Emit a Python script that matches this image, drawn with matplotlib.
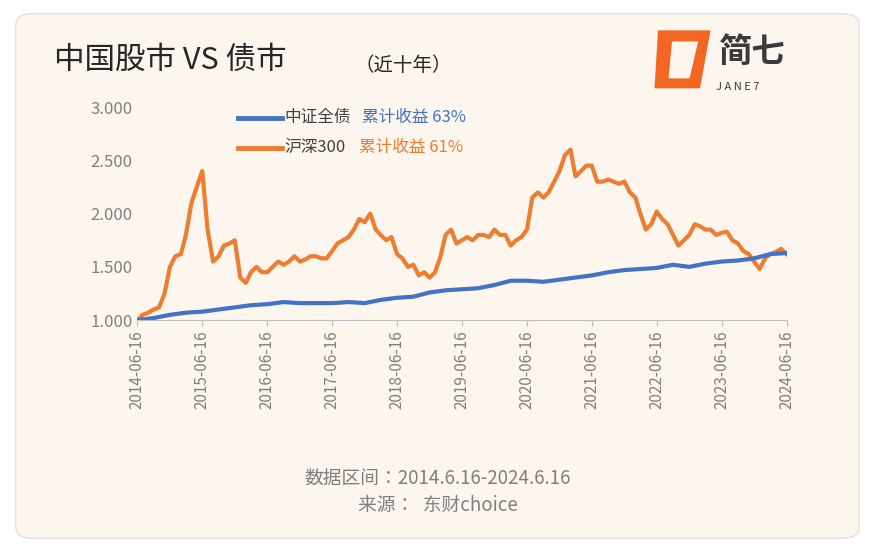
import numpy as np
import pandas as pd
import matplotlib
matplotlib.use("Agg")
import matplotlib.pyplot as plt
from matplotlib import font_manager
from matplotlib.patches import FancyBboxPatch, Polygon
from matplotlib.lines import Line2D

cjk = [f.name for f in font_manager.fontManager.ttflist if "CJK" in f.name]
plt.rcParams["font.family"] = ["Noto Sans CJK SC"] + sorted(set(cjk)) + ["DejaVu Sans"]

# 沪深300 monthly (2014-06 .. 2024-06)
hs300 = [1.00, 1.05, 1.07, 1.10, 1.12, 1.25, 1.50,
         1.60, 1.62, 1.80, 2.10, 2.25, 2.40, 1.85, 1.55, 1.60, 1.70, 1.72, 1.75,
         1.40, 1.35, 1.45, 1.50, 1.45, 1.45, 1.50, 1.55, 1.52, 1.55, 1.60, 1.55,
         1.57, 1.60, 1.60, 1.58, 1.58, 1.65, 1.72, 1.75, 1.78, 1.85, 1.95, 1.92,
         2.00, 1.85, 1.80, 1.75, 1.78, 1.62, 1.58, 1.50, 1.52, 1.42, 1.45, 1.40,
         1.45, 1.60, 1.80, 1.85, 1.72, 1.75, 1.78, 1.75, 1.80, 1.80, 1.78, 1.85,
         1.80, 1.80, 1.70, 1.75, 1.78, 1.85, 2.15, 2.20, 2.15, 2.20, 2.30, 2.40,
         2.55, 2.60, 2.35, 2.40, 2.45, 2.45, 2.30, 2.30, 2.32, 2.30, 2.28, 2.30,
         2.20, 2.15, 2.00, 1.85, 1.90, 2.02, 1.95, 1.90, 1.80, 1.70, 1.75, 1.80,
         1.90, 1.88, 1.85, 1.85, 1.80, 1.82, 1.83, 1.75, 1.72, 1.65, 1.62, 1.55,
         1.48, 1.58, 1.62, 1.64, 1.67, 1.62]
hs300_dates = pd.date_range("2014-06-01", periods=len(hs300), freq="MS") + pd.Timedelta(days=15)

# 中证全债 quarterly
bond = [1.00, 1.02, 1.05, 1.07, 1.08, 1.10, 1.12, 1.14, 1.15, 1.17, 1.16,
        1.16, 1.16, 1.17, 1.16, 1.19, 1.21, 1.22, 1.26, 1.28, 1.29, 1.30, 1.33,
        1.37, 1.37, 1.36, 1.38, 1.40, 1.42, 1.45, 1.47, 1.48, 1.49, 1.52, 1.50,
        1.53, 1.55, 1.56, 1.58, 1.62, 1.63]
bond_dates = pd.date_range("2014-06-01", periods=len(bond), freq="3MS") + pd.Timedelta(days=15)

tick_labels = [f"{y}-06-16" for y in range(2014, 2025)]
tick_dates = pd.to_datetime(tick_labels)

BLUE = "#4472c4"
ORANGE = "#ed7d31"
GRAY = "#7f7f7f"

fig = plt.figure(figsize=(8.75, 5.52), dpi=100)
fig.patch.set_facecolor("white")
card = FancyBboxPatch((0.018, 0.025), 0.964, 0.95, boxstyle="round,pad=0,rounding_size=0.02",
                      transform=fig.transFigure, facecolor="#fdf6ee", edgecolor="#e6e0da", lw=1,
                      zorder=-10)
fig.patches.append(card)

ax = fig.add_axes([0.157, 0.42, 0.742, 0.386])
ax.set_facecolor("none")
ax.plot(hs300_dates, hs300, color=ORANGE, lw=3)
ax.plot(bond_dates, bond, color=BLUE, lw=3)
ax.set_xlim(tick_dates[0], tick_dates[-1])
ax.set_ylim(1.0, 3.0)
ax.set_yticks([1.0, 1.5, 2.0, 2.5, 3.0])
ax.set_yticklabels([f"{v:.3f}" for v in [1.0, 1.5, 2.0, 2.5, 3.0]])
ax.set_xticks(tick_dates)
ax.set_xticklabels(tick_labels, rotation=90)
for s in ["top", "right", "left"]:
    ax.spines[s].set_visible(False)
ax.spines["bottom"].set_color("#bfbfbf")
ax.tick_params(axis="y", length=0, colors=GRAY, labelsize=12)
ax.tick_params(axis="x", length=4, color="#bfbfbf", colors=GRAY, labelsize=11)

# legend
fig.lines.append(Line2D([0.272, 0.322], [0.787, 0.787], color=BLUE, lw=3.5, transform=fig.transFigure))
fig.text(0.325, 0.787, "中证全债", color="#404040", fontsize=12, va="center")
fig.text(0.414, 0.787, "累计收益 63%", color=BLUE, fontsize=12, va="center")
fig.lines.append(Line2D([0.272, 0.322], [0.732, 0.732], color=ORANGE, lw=3.5, transform=fig.transFigure))
fig.text(0.325, 0.732, "沪深300", color="#404040", fontsize=12, va="center")
fig.text(0.41, 0.732, "累计收益 61%", color=ORANGE, fontsize=12, va="center")

# title
fig.text(0.062, 0.89, "中国股市 VS 债市", fontsize=22, color="#262626", va="center")
fig.text(0.405, 0.882, "（近十年）", fontsize=14, color="#262626", va="center")

# logo
fig.patches.append(Polygon([[0.752, 0.945], [0.812, 0.945], [0.800, 0.84], [0.748, 0.84]],
                           closed=True, transform=fig.transFigure, facecolor="#f26522", edgecolor="none"))
fig.patches.append(Polygon([[0.768, 0.925], [0.798, 0.925], [0.788, 0.858], [0.764, 0.858]],
                           closed=True, transform=fig.transFigure, facecolor="#fdf6ee", edgecolor="none"))
fig.text(0.822, 0.905, "简七", fontsize=24, color="#3a3a3a", va="center", fontweight="bold")
fig.text(0.818, 0.843, "J A N E 7", fontsize=8, color="#3a3a3a", va="center", style="italic")

# footer
fig.text(0.5, 0.122, "数据区间：2014.6.16-2024.6.16", ha="center", fontsize=13.5, color=GRAY)
fig.text(0.5, 0.075, "来源：  东财choice", ha="center", fontsize=13.5, color=GRAY)

fig.savefig("out.png", dpi=100)
